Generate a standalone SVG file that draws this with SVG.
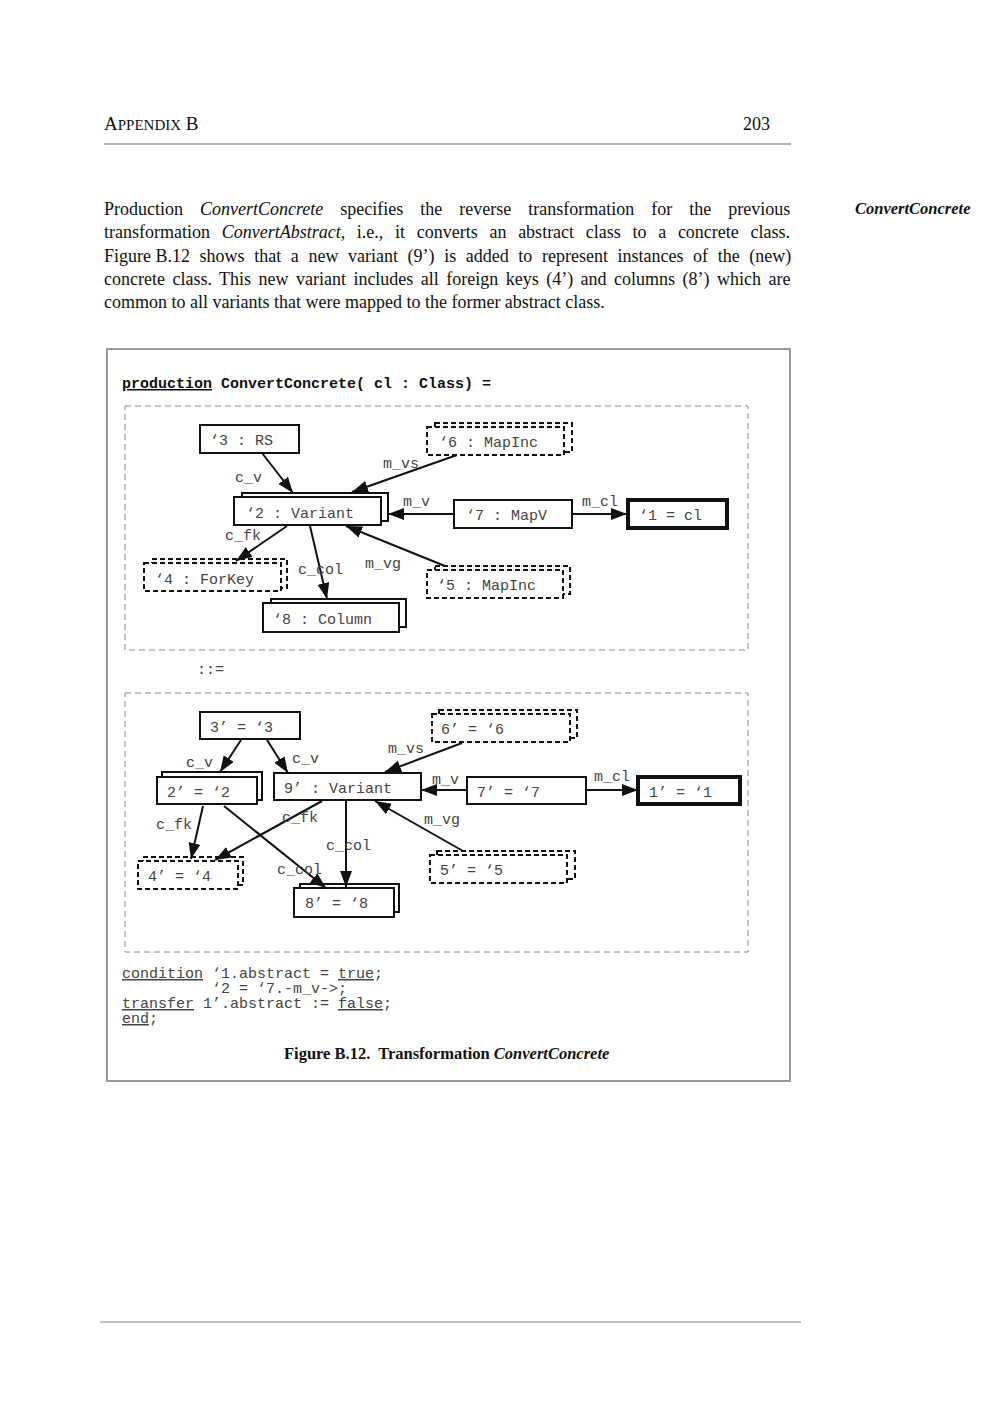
<svg xmlns="http://www.w3.org/2000/svg" width="1000" height="1413" viewBox="0 0 1000 1413">
<style>
.serif{font-family:"Liberation Serif","Times New Roman",serif;fill:#111}
.mono{font-family:"Liberation Mono","Courier New",monospace;font-size:15px;fill:#444}
.bold{font-weight:bold;fill:#111}
.ul{text-decoration:underline}
.box{fill:#fff;stroke:#111;stroke-width:2}
.thick{fill:#fff;stroke:#111;stroke-width:4}
.dbox{fill:#fff;stroke:#111;stroke-width:2;stroke-dasharray:5 3}
.region{fill:none;stroke:#888;stroke-width:1;stroke-dasharray:6 4}
.edge{stroke:#111;stroke-width:2;fill:none;marker-end:url(#arr)}
</style>
<defs>
<marker id="arr" markerUnits="userSpaceOnUse" markerWidth="17" markerHeight="13" refX="16" refY="6" orient="auto">
<path d="M0,0 L16,6 L0,12 z" fill="#111"/>
</marker>
</defs>
<rect width="1000" height="1413" fill="#fff"/>

<!-- page header -->
<text class="serif" x="104" y="130"><tspan font-size="19">A</tspan><tspan font-size="15">PPENDIX</tspan><tspan font-size="19"> B</tspan></text>
<text class="serif" x="770" y="130" font-size="18" text-anchor="end">203</text>
<line x1="104" y1="144" x2="791" y2="144" stroke="#666" stroke-width="1"/>

<!-- paragraph -->
<g class="serif" font-size="18">
<text x="104" y="215" word-spacing="12.5">Production <tspan font-style="italic">ConvertConcrete</tspan> specifies the reverse transformation for the previous</text>
<text x="104" y="238" word-spacing="7.2">transformation <tspan font-style="italic">ConvertAbstract</tspan>, i.e., it converts an abstract class to a concrete class.</text>
<text x="104" y="262" word-spacing="5.1">Figure<tspan x="155.5">B.12 shows that a new variant (9’) is added to represent instances of the (new)</tspan></text>
<text x="104" y="285" word-spacing="2.96">concrete class. This new variant includes all foreign keys (4’) and columns (8’) which are</text>
<text x="104" y="308">common to all variants that were mapped to the former abstract class.</text>
</g>
<text class="serif" x="855" y="214" font-size="16.5" font-weight="bold" font-style="italic">ConvertConcrete</text>

<!-- figure frame -->
<rect x="107" y="349" width="683" height="732" fill="none" stroke="#999" stroke-width="2"/>
<text class="mono bold" x="122" y="388"><tspan class="ul">production</tspan> ConvertConcrete( cl : Class) =</text>

<rect class="region" x="125" y="406" width="623" height="244"/>
<text class="mono" x="197" y="674">::=</text>
<rect class="region" x="125" y="693" width="623" height="259"/>

<!-- top (LHS) nodes -->
<g id="n3">
<rect class="box" x="200" y="425" width="99" height="28"/>
<text class="mono" x="210" y="445">‘3 : RS</text>
</g>
<g id="n2">
<rect class="box" x="242" y="493" width="146" height="28"/>
<rect class="box" x="234" y="497" width="147" height="28"/>
<text class="mono" x="246" y="518">‘2 : Variant</text>
</g>
<g id="n4">
<rect class="dbox" x="152" y="559" width="135" height="29"/>
<rect class="dbox" x="144" y="563" width="137" height="28"/>
<text class="mono" x="155" y="584">‘4 : ForKey</text>
</g>
<g id="n8">
<rect class="box" x="271" y="599" width="135" height="28"/>
<rect class="box" x="263" y="603" width="136" height="29"/>
<text class="mono" x="273" y="624">‘8 : Column</text>
</g>
<g id="n6">
<rect class="dbox" x="435" y="423" width="137" height="29"/>
<rect class="dbox" x="427" y="427" width="137" height="28"/>
<text class="mono" x="439" y="447">‘6 : MapInc</text>
</g>
<g id="n7">
<rect class="box" x="454" y="500" width="118" height="28"/>
<text class="mono" x="466" y="520">‘7 : MapV</text>
</g>
<g id="n1">
<rect class="thick" x="628" y="500" width="99" height="28"/>
<text class="mono" x="639" y="520">‘1 = cl</text>
</g>
<g id="n5">
<rect class="dbox" x="435" y="566" width="135" height="28"/>
<rect class="dbox" x="427" y="570" width="136" height="28"/>
<text class="mono" x="437" y="590">‘5 : MapInc</text>
</g>

<!-- bottom (RHS) nodes -->
<g id="m3">
<rect class="box" x="200" y="712" width="100" height="27"/>
<text class="mono" x="210" y="732">3’ = ‘3</text>
</g>
<g id="m2">
<rect class="box" x="162" y="772" width="100" height="28"/>
<rect class="box" x="157" y="777" width="100" height="27"/>
<text class="mono" x="167" y="797">2’ = ‘2</text>
</g>
<g id="m9">
<rect class="box" x="274" y="773" width="147" height="27"/>
<text class="mono" x="284" y="793">9’ : Variant</text>
</g>
<g id="m4">
<rect class="dbox" x="143" y="857" width="100" height="28"/>
<rect class="dbox" x="138" y="861" width="100" height="28"/>
<text class="mono" x="148" y="881">4’ = ‘4</text>
</g>
<g id="m8">
<rect class="box" x="300" y="884" width="99" height="28"/>
<rect class="box" x="294" y="888" width="100" height="29"/>
<text class="mono" x="305" y="908">8’ = ‘8</text>
</g>
<g id="m6">
<rect class="dbox" x="439" y="710" width="138" height="28"/>
<rect class="dbox" x="432" y="714" width="138" height="28"/>
<text class="mono" x="441" y="734">6’ = ‘6</text>
</g>
<g id="m7">
<rect class="box" x="467" y="777" width="119" height="27"/>
<text class="mono" x="477" y="797">7’ = ‘7</text>
</g>
<g id="m1">
<rect class="thick" x="638" y="777" width="102" height="27"/>
<text class="mono" x="649" y="797">1’ = ‘1</text>
</g>
<g id="m5">
<rect class="dbox" x="437" y="851" width="138" height="28"/>
<rect class="dbox" x="430" y="855" width="137" height="28"/>
<text class="mono" x="440" y="875">5’ = ‘5</text>
</g>

<!-- connectors -->
<g id="connectors">
<line class="edge" x1="262" y1="453" x2="293" y2="493"/>
<line class="edge" x1="457" y1="455" x2="352" y2="492"/>
<line class="edge" x1="454" y1="514" x2="388" y2="514"/>
<line class="edge" x1="572" y1="514" x2="627" y2="514"/>
<line class="edge" x1="445" y1="566" x2="346" y2="526"/>
<line class="edge" x1="287" y1="526" x2="236" y2="561"/>
<line class="edge" x1="310" y1="526" x2="327" y2="599"/>

<line class="edge" x1="241" y1="740" x2="220" y2="772"/>
<line class="edge" x1="267" y1="740" x2="288" y2="773"/>
<line class="edge" x1="462" y1="743" x2="385" y2="772"/>
<line class="edge" x1="467" y1="790" x2="421" y2="790"/>
<line class="edge" x1="586" y1="790" x2="638" y2="790"/>
<line class="edge" x1="463" y1="851" x2="375" y2="801"/>
<line class="edge" x1="203" y1="806" x2="191" y2="859"/>
<line class="edge" x1="322" y1="801" x2="215" y2="860"/>
<line class="edge" x1="224" y1="806" x2="326" y2="888"/>
<line class="edge" x1="346" y1="801" x2="346" y2="887"/>

<g class="mono">
<text x="235" y="482">c_v</text>
<text x="383" y="468">m_vs</text>
<text x="403" y="506">m_v</text>
<text x="582" y="506">m_cl</text>
<text x="365" y="568">m_vg</text>
<text x="225" y="540">c_fk</text>
<text x="298" y="574">c_col</text>

<text x="186" y="767">c_v</text>
<text x="292" y="763">c_v</text>
<text x="388" y="753">m_vs</text>
<text x="432" y="784">m_v</text>
<text x="594" y="781">m_cl</text>
<text x="424" y="824">m_vg</text>
<text x="156" y="829">c_fk</text>
<text x="282" y="822">c_fk</text>
<text x="277" y="874">c_col</text>
<text x="326" y="850">c_col</text>
</g>
</g>

<!-- condition text -->
<g class="mono">
<text x="122" y="978"><tspan class="ul">condition</tspan> ‘1.abstract = <tspan class="ul">true</tspan>;</text>
<text x="212" y="993">‘2 = ‘7.-m_v-&gt;;</text>
<text x="122" y="1008"><tspan class="ul">transfer</tspan> 1’.abstract := <tspan class="ul">false</tspan>;</text>
<text x="122" y="1023"><tspan class="ul">end</tspan>;</text>
</g>

<text class="serif" x="284" y="1059" font-size="16.5" font-weight="bold">Figure B.12.<tspan dx="4"> Transformation </tspan><tspan font-style="italic">ConvertConcrete</tspan></text>

<line x1="100" y1="1322" x2="801" y2="1322" stroke="#888" stroke-width="1"/>
</svg>
